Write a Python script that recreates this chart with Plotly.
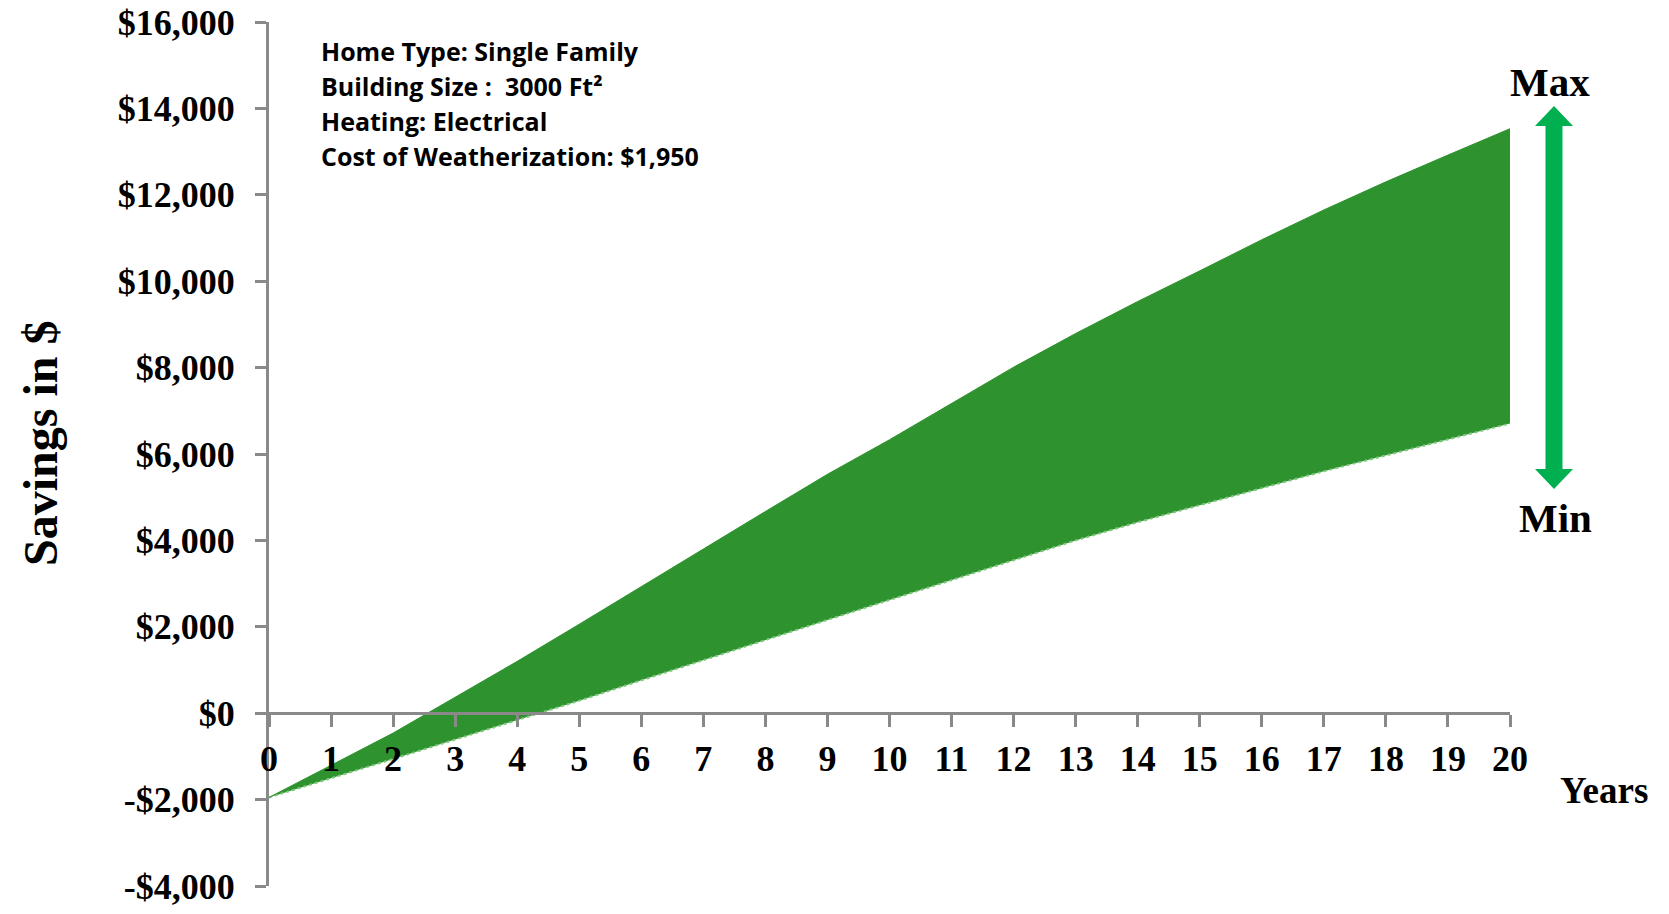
import plotly.graph_objects as go

# ---- data ----
years = list(range(0, 21))
savings_max = [-1950, -1200, -460, 370, 1200, 2060, 2940, 3800, 4670, 5530, 6330,
               7180, 8010, 8790, 9530, 10240, 10960, 11650, 12300, 12920, 13530]
savings_min = [-1950, -1510, -1060, -610, -160, 290, 760, 1230, 1700, 2160, 2620,
               3080, 3530, 4000, 4420, 4820, 5210, 5600, 5970, 6340, 6705]
y_tick_vals = [-4000, -2000, 0, 2000, 4000, 6000, 8000, 10000, 12000, 14000, 16000]
y_tick_text = ["-$4,000", "-$2,000", "$0", "$2,000", "$4,000", "$6,000", "$8,000",
               "$10,000", "$12,000", "$14,000", "$16,000"]
x_tick_vals = years
x_tick_text = [str(v) for v in years]
info_lines = ["Home Type: Single Family",
              "Building Size :\u00a0\u00a03000 Ft\u00b2",
              "Heating: Electrical",
              "Cost of Weatherization: $1,950"]

# ---- layout geometry (pixels) ----
W, H = 1669, 914
L, R, T, B = 269, 1510, 22, 886   # plot area


def px(x):
    return (x - L) / (R - L)


def py(y):
    return (B - y) / (B - T)


SERIF = "Liberation Serif"
FILL = "#2e932e"

fig = go.Figure()
fig.add_trace(go.Scatter(x=years, y=savings_min, mode="lines",
                         line=dict(color="#7dc87d", width=2, dash="dot"),
                         hoverinfo="skip", showlegend=False))
fig.add_trace(go.Scatter(x=years, y=savings_max, mode="lines",
                         line=dict(color=FILL, width=1), fill="tonexty",
                         fillcolor=FILL, showlegend=False))

fig.update_layout(
    width=W, height=H,
    margin=dict(l=L, r=W - R, t=T, b=H - B, autoexpand=False),
    paper_bgcolor="white", plot_bgcolor="white",
    showlegend=False,
)
fig.update_xaxes(range=[0, 20], anchor="free", position=0.2, automargin=False,
                 showgrid=False, zeroline=False,
                 showline=True, linecolor="#898989", linewidth=3,
                 ticks="outside", ticklen=12, tickwidth=2.5, tickcolor="#898989",
                 tickvals=x_tick_vals, ticktext=x_tick_text,
                 tickfont=dict(family=SERIF, size=36, color="black", weight="bold"),
                 ticklabelstandoff=1, ticklabeloverflow="allow")
fig.update_yaxes(range=[-4000, 16000], automargin=False,
                 showgrid=False, zeroline=False,
                 showline=True, linecolor="#898989", linewidth=3,
                 ticks="outside", ticklen=11, tickwidth=2.5, tickcolor="#898989",
                 tickvals=y_tick_vals, ticktext=y_tick_text,
                 tickfont=dict(family=SERIF, size=36, color="black", weight="bold"),
                 ticklabelstandoff=13, ticklabeloverflow="allow")

ann = []
# info box lines
for i, line in enumerate(info_lines):
    ann.append(dict(xref="paper", yref="paper", x=px(319), y=py(51 + 35 * i),
                    xanchor="left", yanchor="middle", showarrow=False, text=line,
                    font=dict(family="Open Sans", size=25, color="black", weight="bold")))
# axis titles and labels
ann.append(dict(xref="paper", yref="paper", x=px(40), y=py(444), textangle=-90,
                xanchor="center", yanchor="middle", showarrow=False,
                text="Savings in $",
                font=dict(family=SERIF, size=48, color="black", weight="bold")))
ann.append(dict(xref="paper", yref="paper", x=px(1604), y=py(790),
                xanchor="center", yanchor="middle", showarrow=False, text="Years",
                font=dict(family=SERIF, size=37, color="black", weight="bold")))
ann.append(dict(xref="paper", yref="paper", x=px(1550), y=py(82),
                xanchor="center", yanchor="middle", showarrow=False, text="Max",
                font=dict(family=SERIF, size=41, color="black", weight="bold")))
ann.append(dict(xref="paper", yref="paper", x=px(1555), y=py(518),
                xanchor="center", yanchor="middle", showarrow=False, text="Min",
                font=dict(family=SERIF, size=41, color="black", weight="bold")))
fig.update_layout(annotations=ann)

# double-headed arrow (decoration)
cx, top, bot = 1554, 106, 489
sw, hw, hh = 8.5, 19, 20
pts = [(cx, top), (cx + hw, top + hh), (cx + sw, top + hh), (cx + sw, bot - hh),
       (cx + hw, bot - hh), (cx, bot), (cx - hw, bot - hh), (cx - sw, bot - hh),
       (cx - sw, top + hh), (cx - hw, top + hh)]
path = "M " + " L ".join(f"{px(a):.5f},{py(b):.5f}" for a, b in pts) + " Z"
fig.add_shape(type="path", xref="paper", yref="paper", path=path,
              fillcolor="#00b050", line=dict(width=0))

fig.write_html("out.html",
               config={"displayModeBar": False},
               post_script="document.body.style.margin='0';"
                           "document.body.style.overflow='hidden';")
